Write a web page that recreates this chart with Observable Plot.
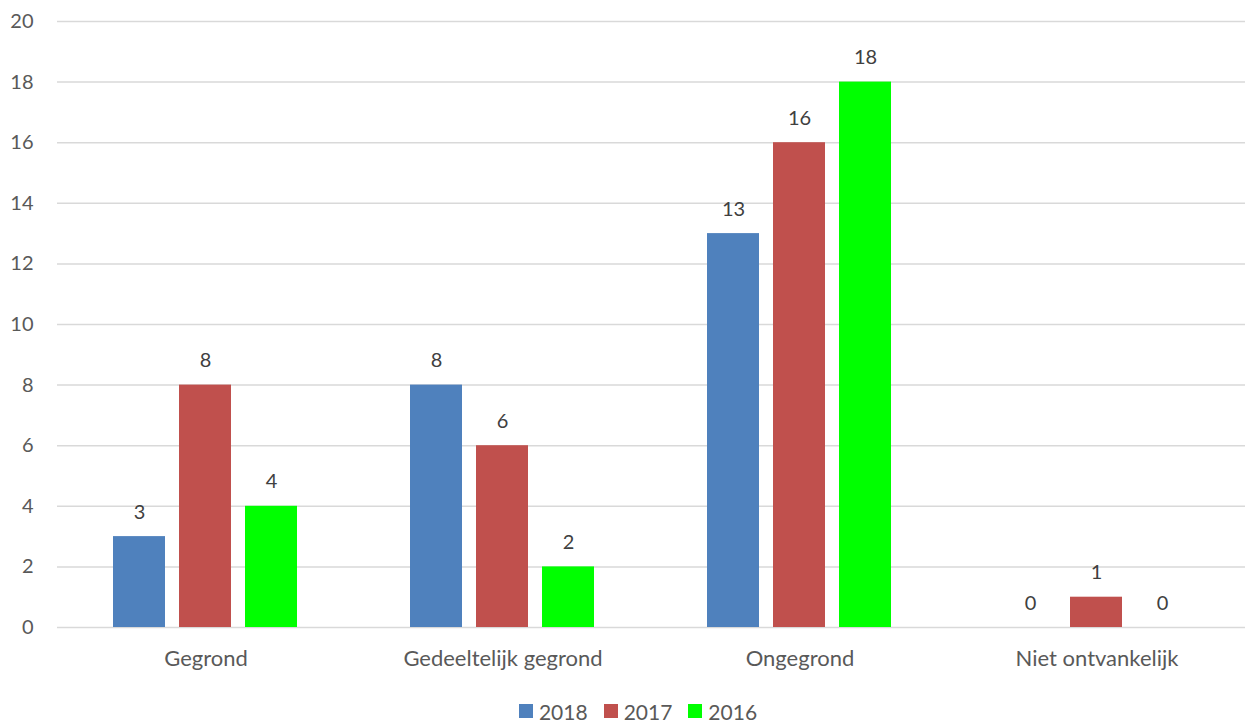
<!DOCTYPE html>
<html>
<head>
<meta charset="utf-8">
<script src="https://cdn.jsdelivr.net/npm/d3@7"></script>
<script src="https://cdn.jsdelivr.net/npm/@observablehq/plot@0.6"></script>
<style>
  html, body { margin: 0; padding: 0; background: #fff; }
  #chart { width: 1246px; }
  .legend {
    display: flex; justify-content: center; align-items: center;
    height: 42px; padding-left: 30px; box-sizing: border-box; width: 1246px;
    font-family: Lato, "Open Sans", sans-serif; font-size: 21px; color: #595959;
  }
  .legend .item { display: flex; align-items: center; margin: 0 8px; }
  .legend .sw { width: 14px; height: 14px; margin-right: 6px; }
</style>
</head>
<body>
<div id="chart"></div>
<script>
// Complaint outcomes per year
const categories = ["Gegrond", "Gedeeltelijk gegrond", "Ongegrond", "Niet ontvankelijk"];
const years = ["2018", "2017", "2016"];
const values2018 = [3, 8, 13, 0];
const values2017 = [8, 6, 16, 1];
const values2016 = [4, 2, 18, 0];
const yTicks = [0, 2, 4, 6, 8, 10, 12, 14, 16, 18, 20];
const colors = ["#4F81BD", "#C0504D", "#00FF00"];

const series = [values2018, values2017, values2016];
const data = categories.flatMap((category, i) =>
  years.map((year, j) => ({category, year, value: series[j][i]}))
);

const chart = Plot.plot({
  width: 1246,
  height: 690,
  marginLeft: 57,
  marginRight: 1,
  marginTop: 21,
  marginBottom: 63,
  style: {fontFamily: "Lato, 'Open Sans', sans-serif", fontSize: "20px", color: "#595959", background: "#fff"},
  fx: {domain: categories, padding: 0, label: null, axis: null},
  x: {domain: years, paddingInner: 0.212, paddingOuter: 0.856, axis: null},
  y: {domain: [0, 20], ticks: yTicks, label: null, tickSize: 0, tickPadding: 24},
  color: {domain: years, range: colors},
  marks: [
    Plot.gridY(yTicks, {stroke: "#d9d9d9", strokeOpacity: 1, strokeWidth: 1.5}),
    Plot.axisFx({anchor: "bottom", label: null, tickSize: 0, tickPadding: 23, fontSize: 22}),
    Plot.barY(data, {fx: "category", x: "year", y: "value", fill: "year"}),
    Plot.text(data, {
      fx: "category", x: "year", y: "value",
      text: d => String(d.value),
      lineAnchor: "bottom", dy: -18, fill: "#404040", fontSize: 20
    })
  ]
});
document.getElementById("chart").appendChild(chart);

// Legend below the chart
const legend = document.createElement("div");
legend.className = "legend";
years.forEach((year, j) => {
  const item = document.createElement("div");
  item.className = "item";
  const sw = document.createElement("span");
  sw.className = "sw";
  sw.style.background = colors[j];
  const label = document.createElement("span");
  label.textContent = year;
  item.appendChild(sw);
  item.appendChild(label);
  legend.appendChild(item);
});
document.body.appendChild(legend);
</script>
</body>
</html>
